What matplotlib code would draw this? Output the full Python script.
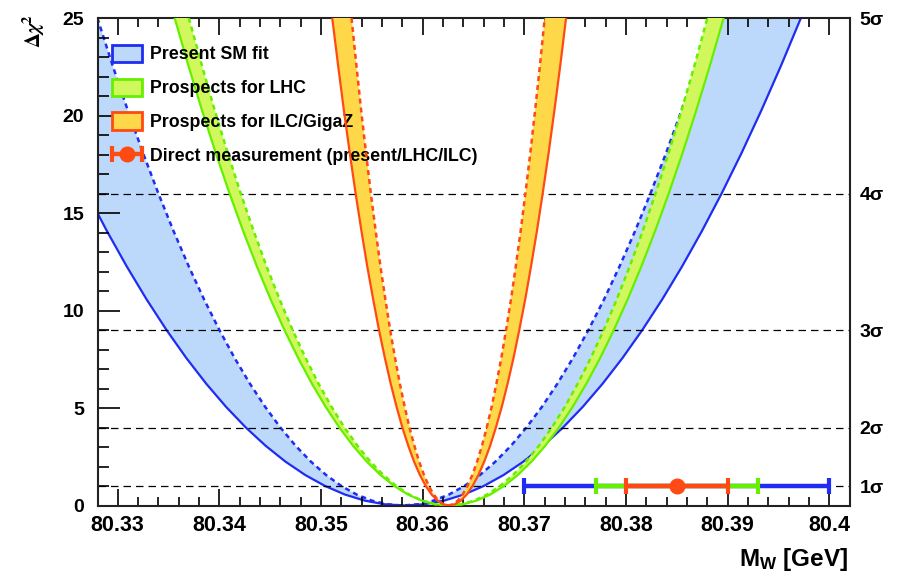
import matplotlib
matplotlib.use('Agg')
import matplotlib.pyplot as plt
from matplotlib.patches import Patch
from matplotlib.ticker import MultipleLocator
from matplotlib.legend_handler import HandlerErrorbar
from matplotlib.container import ErrorbarContainer

plt.rcParams['font.family'] = ['Liberation Sans', 'DejaVu Sans']
plt.rcParams['font.weight'] = 'bold'
plt.rcParams['mathtext.fontset'] = 'custom'
plt.rcParams['mathtext.rm'] = 'Liberation Sans'
plt.rcParams['mathtext.bf'] = 'Liberation Sans:bold'

chi2_left = [25, 22.5625, 20.25, 18.0625, 16, 14.0625, 12.25, 10.5625, 9, 7.5625, 6.25,
             5.0625, 4, 3.0625, 2.25, 1.5625, 1, 0.5625, 0.25, 0.0625, 0]
chi2_right = [0.0625, 0.25, 0.5625, 1, 1.5625, 2.25, 3.0625, 4, 5.0625, 6.25, 7.5625,
              9, 10.5625, 12.25, 14.0625, 16, 18.0625, 20.25, 22.5625, 25]

# M_W [GeV] of each curve at those levels: left branch, right branch
sm_solid_l = [80.3192, 80.32115, 80.3231, 80.32505, 80.3270, 80.32895, 80.3309, 80.33285,
              80.3348, 80.33675, 80.3387, 80.34065, 80.3426, 80.34455, 80.3465, 80.34845,
              80.3504, 80.35235, 80.3543, 80.35625, 80.3582]
sm_solid_r = [80.36015, 80.3621, 80.36405, 80.3660, 80.36795, 80.3699, 80.37185, 80.3738,
              80.37575, 80.3777, 80.37965, 80.3816, 80.38355, 80.3855, 80.38745, 80.3894,
              80.39135, 80.3933, 80.39525, 80.3972]
sm_dashed_l = [80.3280, 80.3295, 80.3310, 80.3325, 80.3340, 80.3355, 80.3370, 80.3385,
               80.3400, 80.3415, 80.3430, 80.3445, 80.3460, 80.3475, 80.3490, 80.3505,
               80.3520, 80.3535, 80.3550, 80.3565, 80.3580]
sm_dashed_r = [80.35953, 80.36105, 80.36258, 80.3641, 80.36563, 80.36715, 80.36868, 80.3702,
               80.37173, 80.37325, 80.37478, 80.3763, 80.37783, 80.37935, 80.38088, 80.3824,
               80.38393, 80.38545, 80.38698, 80.3885]
lhc_solid_l = [80.3356, 80.33695, 80.3383, 80.33965, 80.3410, 80.34235, 80.3437, 80.34505,
               80.3464, 80.34775, 80.3491, 80.35045, 80.3518, 80.35315, 80.3545, 80.35585,
               80.3572, 80.35855, 80.3599, 80.36125, 80.3626]
lhc_solid_r = [80.36395, 80.3653, 80.36665, 80.3680, 80.36935, 80.3707, 80.37205, 80.3734,
               80.37475, 80.3761, 80.37745, 80.3788, 80.38015, 80.3815, 80.38285, 80.3842,
               80.38555, 80.3869, 80.38825, 80.3896]
lhc_dashed_l = [80.3370, 80.33828, 80.33955, 80.34083, 80.3421, 80.34338, 80.34465, 80.34593,
                80.3472, 80.34848, 80.34975, 80.35103, 80.3523, 80.35358, 80.35485, 80.35613,
                80.3574, 80.35868, 80.35995, 80.36123, 80.3625]
lhc_dashed_r = [80.36378, 80.36505, 80.36633, 80.3676, 80.36888, 80.37015, 80.37143, 80.3727,
                80.37398, 80.37525, 80.37653, 80.3778, 80.37908, 80.38035, 80.38163, 80.3829,
                80.38418, 80.38545, 80.38673, 80.3880]
ilc_solid_l = [80.3511, 80.35168, 80.35225, 80.35283, 80.3534, 80.35398, 80.35455, 80.35513,
               80.3557, 80.35628, 80.35685, 80.35743, 80.3580, 80.35858, 80.35915, 80.35973,
               80.3603, 80.36088, 80.36145, 80.36203, 80.3626]
ilc_solid_r = [80.36318, 80.36375, 80.36433, 80.3649, 80.36548, 80.36605, 80.36663, 80.3672,
               80.36778, 80.36835, 80.36893, 80.3695, 80.37008, 80.37065, 80.37123, 80.3718,
               80.37238, 80.37295, 80.37353, 80.3741]
ilc_dashed_l = [80.3530, 80.35348, 80.35395, 80.35443, 80.3549, 80.35538, 80.35585, 80.35633,
                80.3568, 80.35728, 80.35775, 80.35823, 80.3587, 80.35918, 80.35965, 80.36013,
                80.3606, 80.36108, 80.36155, 80.36203, 80.3625]
ilc_dashed_r = [80.36298, 80.36345, 80.36393, 80.3644, 80.36488, 80.36535, 80.36583, 80.3663,
                80.36678, 80.36725, 80.36773, 80.3682, 80.36868, 80.36915, 80.36963, 80.3701,
                80.37058, 80.37105, 80.37153, 80.3720]

# direct measurement: present / LHC / ILC
mw_direct = 80.385
mw_direct_err = [0.015, 0.008, 0.005]

sigma_levels = [1, 4, 9, 16, 25]
sigma_labels = ['1σ', '2σ', '3σ', '4σ', '5σ']
x_ticks = [80.33, 80.34, 80.35, 80.36, 80.37, 80.38, 80.39, 80.40]
x_tick_labels = ['80.33', '80.34', '80.35', '80.36', '80.37', '80.38', '80.39', '80.4']

blue_line, blue_fill = '#1f2cf2', '#bcd9fb'
green_line, green_fill = '#66f000', '#d0f85c'
orange_line, orange_fill = '#ff4a14', '#ffd84a'

chi2_levels = chi2_left + chi2_right

fig = plt.figure(figsize=(8.99, 5.77), dpi=100)
ax = fig.add_axes([0.109, 0.1239, 0.8365, 0.8449])


def band(solid, dashed, line, fill, z):
    ax.fill(solid + dashed[::-1], chi2_levels + chi2_levels[::-1],
            color=fill, lw=0, zorder=z)
    ax.plot(solid, chi2_levels, color=line, lw=1.6, zorder=z + 0.5)
    ax.plot(dashed, chi2_levels, color=line, lw=1.8, ls=(0, (2, 1.6)), zorder=z + 0.5)


band(sm_solid_l + sm_solid_r, sm_dashed_l + sm_dashed_r, blue_line, blue_fill, 1)
band(lhc_solid_l + lhc_solid_r, lhc_dashed_l + lhc_dashed_r, green_line, green_fill, 3)
band(ilc_solid_l + ilc_solid_r, ilc_dashed_l + ilc_dashed_r, orange_line, orange_fill, 5)

for lev in sigma_levels[:-1]:
    ax.axhline(lev, color='black', lw=0.9, ls=(0, (6, 4)), zorder=2.2)

err_colors = [blue_line, green_line]
for err, col in zip(mw_direct_err[:2], err_colors):
    ax.errorbar(mw_direct, 1, xerr=err, fmt='none', ecolor=col, elinewidth=3.2,
                capsize=6, capthick=3, zorder=8)
ilc_point = ax.errorbar(mw_direct, 1, xerr=mw_direct_err[2], fmt='o', color=orange_line,
                        ms=10.5, elinewidth=3.2, capsize=6, capthick=3, zorder=9)

ax.set_xlim(80.32806, 80.40203)
ax.set_ylim(0, 25)
ax.set_xticks(x_ticks)
ax.set_xticklabels(x_tick_labels)
ax.xaxis.set_minor_locator(MultipleLocator(0.002))
ax.yaxis.set_major_locator(MultipleLocator(5))
ax.yaxis.set_minor_locator(MultipleLocator(1))

ax.tick_params(axis='x', which='major', direction='in', length=12, width=1.2,
               top=True, labelsize=15.5, pad=7)
ax.tick_params(axis='x', which='minor', direction='in', length=6.5, width=1.2, top=True)
ax.tick_params(axis='y', which='major', direction='in', length=16, width=1.2,
               right=True, labelsize=14, pad=10)
ax.tick_params(axis='y', which='minor', direction='in', length=8, width=1.2, right=True)
for s in ax.spines.values():
    s.set_linewidth(1.5)
    s.set_color('#222222')

ax2 = ax.twinx()
ax2.set_ylim(0, 25)
ax2.set_yticks(sigma_levels)
ax2.set_yticklabels(sigma_labels)
ax2.tick_params(axis='y', length=0, pad=7, labelsize=14)
for s in ax2.spines.values():
    s.set_visible(False)

handles = [Patch(facecolor=blue_fill, edgecolor=blue_line, linewidth=2),
           Patch(facecolor=green_fill, edgecolor=green_line, linewidth=2),
           Patch(facecolor=orange_fill, edgecolor=orange_line, linewidth=2),
           ilc_point]
labels = ['Present SM fit', 'Prospects for LHC', 'Prospects for ILC/GigaZ',
          'Direct measurement (present/LHC/ILC)']
ax.legend(handles, labels, loc='upper left', bbox_to_anchor=(0.0186, 0.945),
          frameon=False, borderpad=0, borderaxespad=0, handlelength=1.69,
          handleheight=1.12, handletextpad=0.45, labelspacing=0.85,
          prop={'weight': 'bold', 'size': 12.8},
          handler_map={ErrorbarContainer: HandlerErrorbar(xerr_size=0.84)})

fig.text(34 / 899, 1 - 14 / 577, r'$\Delta\chi^{2}$', rotation=90, ha='center', va='top',
         fontsize=15, math_fontfamily='stix')
fig.text(848 / 899, 1 - 573 / 577, r'$\mathbf{M_{W}}$ [GeV]', ha='right', va='bottom',
         fontsize=17.5, fontweight='bold')

fig.savefig('out.png', dpi=100)
